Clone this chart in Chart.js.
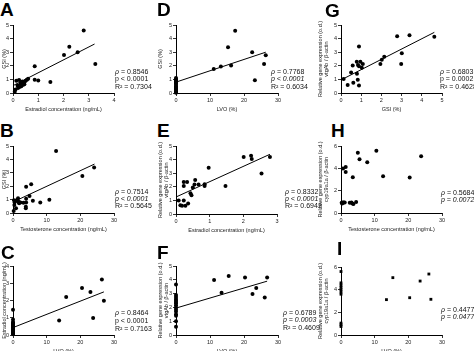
<!DOCTYPE html>
<html>
<head>
<meta charset="utf-8">
<script src="https://cdn.jsdelivr.net/npm/chart.js@4.4.1/dist/chart.umd.min.js"></script>
<style>
body { margin: 0; background: #fff; width: 474px; height: 351px; position: relative; overflow: hidden; font-family: "Liberation Sans", Arial, sans-serif; }
canvas { position: absolute; }
.lt { position: absolute; font-weight: bold; font-size: 19px; line-height: 19px; color: #000; }
.st { position: absolute; font-size: 7px; line-height: 7px; white-space: nowrap; color: #111; }
</style>
</head>
<body>
<canvas id="cA" width="122" height="93" style="left:0px;top:20px"></canvas>
<canvas id="cD" width="130" height="93" style="left:156px;top:20px"></canvas>
<canvas id="cG" width="134" height="93" style="left:316px;top:20px"></canvas>
<canvas id="cB" width="122" height="92" style="left:0px;top:141px"></canvas>
<canvas id="cE" width="129" height="93" style="left:156px;top:141px"></canvas>
<canvas id="cH" width="134" height="92" style="left:316px;top:141px"></canvas>
<canvas id="cC" width="122" height="94" style="left:0px;top:261px"></canvas>
<canvas id="cF" width="130" height="94" style="left:156px;top:261px"></canvas>
<canvas id="cI" width="134" height="93" style="left:316px;top:262px"></canvas>

<div class="lt" style="left:0px;top:0px">A</div>
<div class="lt" style="left:157px;top:0px">D</div>
<div class="lt" style="left:325px;top:1px">G</div>
<div class="lt" style="left:0px;top:121px">B</div>
<div class="lt" style="left:157px;top:121px">E</div>
<div class="lt" style="left:331px;top:121px">H</div>
<div class="lt" style="left:1px;top:243px">C</div>
<div class="lt" style="left:157px;top:243px">F</div>
<div class="lt" style="left:337px;top:239px">I</div>

<div class="st" style="left:115px;top:68px"><i>ρ</i> = 0.8546</div>
<div class="st" style="left:115px;top:75px">p &lt; 0.0001</div>
<div class="st" style="left:115px;top:83px">R² = 0.7304</div>

<div class="st" style="left:271px;top:68px"><i>ρ</i> = 0.7768</div>
<div class="st" style="left:271px;top:75px"><i>p &lt; 0.0001</i></div>
<div class="st" style="left:271px;top:83px">R² = 0.6034</div>

<div class="st" style="left:440px;top:68px"><i>ρ</i> = 0.6803</div>
<div class="st" style="left:440px;top:75px">p = 0.0002</div>
<div class="st" style="left:440px;top:83px">R² = 0.4628</div>

<div class="st" style="left:115px;top:188px"><i>ρ</i> = 0.7514</div>
<div class="st" style="left:115px;top:195px"><i>p &lt; 0.0001</i></div>
<div class="st" style="left:115px;top:202px">R² = 0.5645</div>

<div class="st" style="left:285px;top:188px"><i>ρ</i> = 0.8332</div>
<div class="st" style="left:285px;top:195px"><i>p &lt; 0.0001</i></div>
<div class="st" style="left:285px;top:202px">R² = 0.6942</div>

<div class="st" style="left:441px;top:189px"><i>ρ</i> = 0.5684</div>
<div class="st" style="left:441px;top:196px"><i>p = 0.0072</i></div>

<div class="st" style="left:115px;top:309px"><i>ρ</i> = 0.8464</div>
<div class="st" style="left:115px;top:317px">p &lt; 0.0001</div>
<div class="st" style="left:115px;top:325px">R² = 0.7163</div>

<div class="st" style="left:283px;top:309px"><i>ρ</i> = 0.6789</div>
<div class="st" style="left:283px;top:316px"><i>p = 0.0003</i></div>
<div class="st" style="left:283px;top:324px">R² = 0.4609</div>

<div class="st" style="left:441px;top:306px"><i>ρ</i> = 0.4477</div>
<div class="st" style="left:441px;top:313px"><i>p = 0.0477</i></div>

<script>
// A: GSI vs estradiol
var aX = [2.8, 2.23, 2.02, 2.56, 3.26, 0.86, 0.86, 1.0, 1.48, 0.6, 0.13, 0.24, 0.32, 0.37, 0.42, 0.46, 0.4, 0.33, 0.26, 0.2, 0.1, 0.07, 0.5, 0.55, 0.3, 0.18, 0.45];
var aY = [4.6, 3.4, 2.8, 3.0, 2.13, 1.96, 0.98, 0.91, 0.81, 1.05, 0.9, 0.95, 0.8, 0.85, 0.74, 0.83, 0.6, 0.5, 0.45, 0.37, 0.25, 0.1, 0.9, 0.98, 0.7, 0.55, 0.65];
var aFit = [[0, 0.54], [3.23, 3.6]];

// D: GSI vs LVO
var dX = [11.1, 13.2, 16.2, 15.3, 17.4, 22.4, 23.2, 25.9, 26.4, 0, 0, 0, 0, 0, 0, 0, 0, 0, 0, 0, 0, 0, 0, 0, 0, 0];
var dY = [1.76, 1.94, 2.03, 3.36, 4.58, 2.99, 0.93, 2.13, 2.77, 1.1, 1.0, 0.95, 0.9, 0.85, 0.8, 0.75, 0.7, 0.6, 0.5, 0.45, 0.37, 0.3, 0.25, 0.15, 0.08, 0.02];
var dFit = [[0, 0.8], [26.4, 3.0]];

// G: vtgAb vs GSI
var gX = [0.13, 0.33, 0.61, 0.5, 0.58, 0.78, 0.79, 0.83, 0.89, 0.89, 0.96, 0.89, 1.03, 1.08, 0.84, 1.95, 2.02, 2.14, 2.78, 3.39, 3.01, 2.98, 4.62];
var gY = [1.03, 0.59, 0.76, 1.5, 2.03, 2.3, 1.42, 0.98, 0.56, 3.41, 2.3, 1.96, 1.86, 2.13, 2.06, 2.13, 2.45, 2.67, 4.17, 4.24, 2.92, 2.13, 4.14];
var gFit = [[0.12, 1.05], [4.62, 4.46]];

// B: GSI vs testosterone
var bX = [12.8, 24.1, 20.6, 5.4, 3.9, 4.9, 3.9, 5.9, 8.1, 10.8, 3.9, 3.8, 3.8, 3.1, 0.7, 1.2, 1.7, 0.4, 0.9, 1.8, 2.2, 1.5, 0.5, 0.2, 0.3];
var bY = [4.63, 3.39, 2.77, 2.15, 1.96, 1.26, 1.06, 0.92, 0.79, 0.99, 0.79, 0.47, 0.35, 0.77, 0.89, 0.97, 0.84, 0.6, 0.35, 0.72, 0.79, 1.1, 0.8, 0.15, 0.95];
var bFit = [[0, 0.82], [24.2, 3.65]];

// E: vtgAb vs estradiol
var eX = [0.08, 0.13, 0.18, 0.23, 0.28, 0.36, 0.23, 0.23, 0.33, 0.43, 0.46, 0.5, 0.57, 0.55, 0.67, 0.85, 0.85, 0.97, 1.47, 2.01, 2.23, 2.25, 2.54, 2.79];
var eY = [1.0, 0.64, 0.61, 1.0, 0.61, 0.78, 2.06, 2.35, 2.35, 1.52, 1.37, 1.94, 2.5, 2.16, 2.16, 2.06, 2.18, 3.4, 2.06, 4.19, 4.29, 4.04, 2.97, 4.19];
var eFit = [[0, 1.25], [2.79, 4.39]];

// H: cyp19a1a vs testosterone
var hX = [5.0, 10.5, 5.5, 7.8, 23.8, 12.5, 20.4, 3.5, 0.6, 1.4, 1.4, 0.2, 0.5, 0.8, 1.1, 2.6, 3.1, 3.4, 3.7, 4.5, 0.35];
var hY = [5.4, 5.58, 4.81, 4.54, 5.08, 3.3, 3.18, 3.21, 3.98, 4.13, 3.68, 0.92, 0.95, 0.93, 0.95, 0.92, 0.95, 0.86, 0.8, 0.98, 0.85];

// C: estradiol vs LVO
var cX = [26.4, 20.5, 23.0, 15.8, 27.0, 13.7, 23.8, 0, 0, 0, 0, 0, 0, 0, 0, 0, 0, 0, 0, 0, 0, 0, 0, 0];
var cY = [3.22, 2.73, 2.5, 2.2, 1.99, 0.84, 0.98, 1.46, 0.9, 0.75, 0.7, 0.65, 0.6, 0.55, 0.5, 0.45, 0.4, 0.35, 0.3, 0.25, 0.2, 0.15, 0.1, 0.05];
var cFit = [[0, 0.43], [27.0, 2.5]];

// F: vtgAb vs LVO
var fX = [11.2, 15.5, 13.4, 20.3, 22.5, 23.6, 26.8, 26.1, 0, 0, 0, 0, 0, 0, 0, 0, 0, 0, 0, 0, 0, 0, 0];
var fY = [3.98, 4.27, 3.07, 4.17, 2.98, 3.41, 4.17, 2.71, 3.66, 2.9, 2.75, 2.6, 2.5, 2.4, 2.3, 2.15, 2.0, 1.85, 1.7, 1.5, 1.4, 1.0, 0.6];
var fFit = [[0, 1.95], [26.8, 3.9]];

// I: cyp19a1a vs LVO
var iX = [13.5, 15.4, 20.4, 23.5, 26.1, 26.7, 0, 0, 0, 0, 0, 0, 0, 0, 0, 0];
var iY = [3.12, 5.06, 3.29, 4.76, 5.38, 3.15, 5.6, 4.6, 4.4, 4.2, 4.0, 3.8, 3.6, 1.05, 0.9, 0.75];

var vtgTitle = ['Relative gene expression (o.d.)', 'vtgAb / β-actin'];
var cypTitle = ['Relative gene expression (o.d.)', 'cyp19a1a / β-actin'];

function toPts(xs, ys) {
    var pts = [];
    for (var i = 0; i < xs.length; i++) {
        pts.push({ x: xs[i], y: ys[i] });
    }
    return pts;
}

function axis(min, max, step, title, fit, isX) {
    return {
        type: 'linear',
        min: min,
        max: max,
        ticks: { stepSize: step, autoSkip: false, maxRotation: 0, color: '#222', font: { size: 5.5 }, padding: 1 },
        grid: { display: true, drawOnChartArea: false, drawTicks: true, tickLength: 3, color: '#000', lineWidth: 0.8 },
        border: { display: true, color: '#000', width: 1 },
        title: { display: true, text: title, color: '#222', font: { size: 5.5, lineHeight: 1.1 }, padding: isX ? { top: 1, bottom: 0 } : { top: 1, bottom: 1 } },
        afterFit: function (s) {
            if (isX) { s.height = fit; } else { s.width = fit; }
        }
    };
}

function panel(id, p) {
    var datasets = [{
        data: toPts(p.xs, p.ys),
        pointRadius: 2,
        pointStyle: p.square ? 'rect' : 'circle',
        pointBackgroundColor: '#000',
        pointBorderWidth: 0,
        showLine: false,
        clip: false
    }];
    if (p.fit) {
        datasets.push({
            data: [{ x: p.fit[0][0], y: p.fit[0][1] }, { x: p.fit[1][0], y: p.fit[1][1] }],
            showLine: true,
            borderColor: '#000',
            borderWidth: 1,
            pointRadius: 0,
            clip: false
        });
    }
    new Chart(document.getElementById(id).getContext('2d'), {
        type: 'scatter',
        data: { datasets: datasets },
        options: {
            responsive: false,
            animation: false,
            layout: { padding: { left: 0, top: 5, right: 8, bottom: 0 } },
            plugins: { legend: { display: false }, tooltip: { enabled: false } },
            scales: {
                x: axis(0, p.xMax, p.xStep, p.xTitle, 20, true),
                y: axis(0, p.yMax, p.yStep, p.yTitle, p.yw, false)
            }
        }
    });
}

panel('cA', { xs: aX, ys: aY, fit: aFit, xMax: 4, xStep: 1, yMax: 5, yStep: 1, xTitle: 'Estradiol concentration (ng/mL)', yTitle: 'GSI (%)', yw: 13 });
panel('cD', { xs: dX, ys: dY, fit: dFit, xMax: 30, xStep: 10, yMax: 5, yStep: 1, xTitle: 'LVO (%)', yTitle: 'GSI (%)', yw: 20 });
panel('cG', { xs: gX, ys: gY, fit: gFit, xMax: 5, xStep: 1, yMax: 5, yStep: 1, xTitle: 'GSI (%)', yTitle: vtgTitle, yw: 25 });
panel('cB', { xs: bX, ys: bY, fit: bFit, xMax: 30, xStep: 10, yMax: 5, yStep: 1, xTitle: 'Testosterone concentration (ng/mL)', yTitle: 'GSI (%)', yw: 13 });
panel('cE', { xs: eX, ys: eY, fit: eFit, xMax: 3, xStep: 1, yMax: 5, yStep: 1, xTitle: 'Estradiol concentration (ng/mL)', yTitle: vtgTitle, yw: 20 });
panel('cH', { xs: hX, ys: hY, xMax: 30, xStep: 10, yMax: 6, yStep: 2, xTitle: 'Testosterone concentration (ng/mL)', yTitle: cypTitle, yw: 25 });
panel('cC', { xs: cX, ys: cY, fit: cFit, xMax: 30, xStep: 10, yMax: 4, yStep: 1, xTitle: 'LVO (%)', yTitle: 'Estradiol concentration (ng/mL)', yw: 13 });
panel('cF', { xs: fX, ys: fY, fit: fFit, xMax: 30, xStep: 10, yMax: 5, yStep: 1, xTitle: 'LVO (%)', yTitle: vtgTitle, yw: 20 });
panel('cI', { xs: iX, ys: iY, square: true, xMax: 30, xStep: 10, yMax: 6, yStep: 2, xTitle: 'LVO (%)', yTitle: cypTitle, yw: 25 });
</script>
</body>
</html>
